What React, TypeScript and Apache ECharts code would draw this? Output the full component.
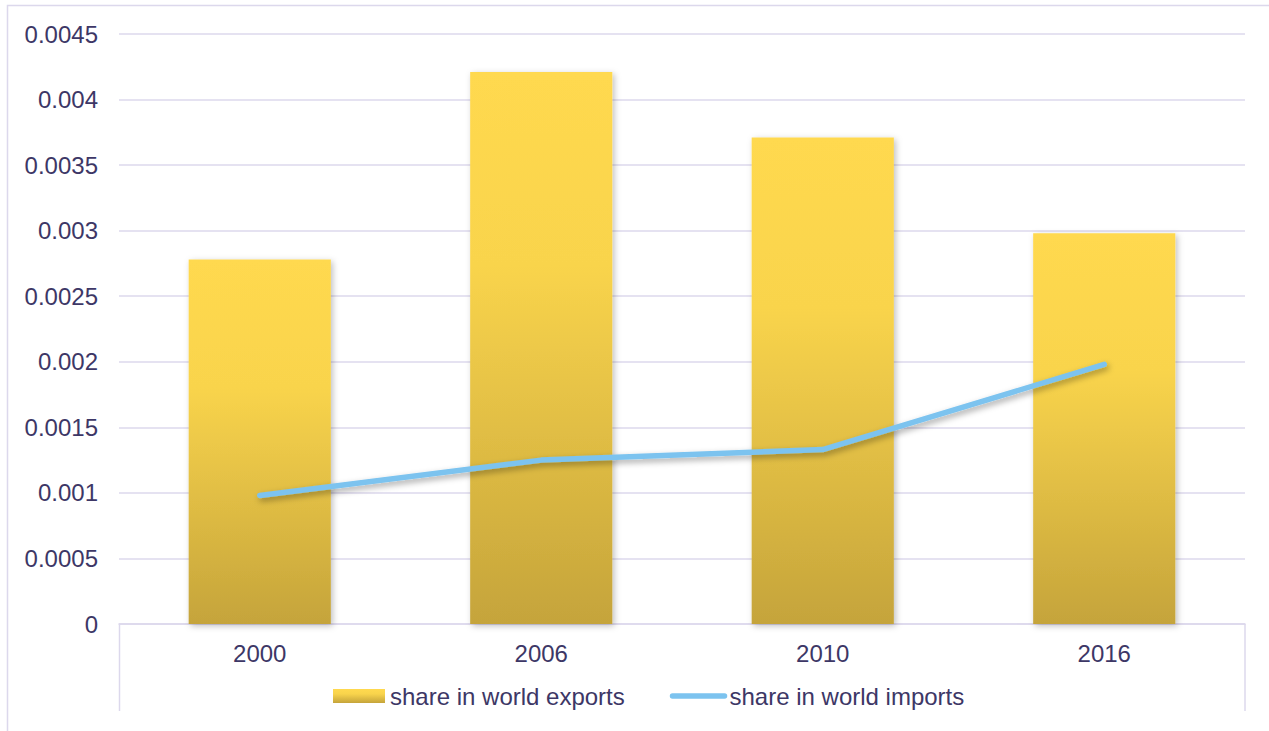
import React, { useEffect, useRef } from "react";
import * as echarts from "echarts";

const categories = ["2000", "2006", "2010", "2016"];
const exportsShare = [0.00278, 0.00421, 0.00371, 0.00298];
const importsShare = [0.00098, 0.00125, 0.00133, 0.00198];

const TEXT = "#3d3766";
const GRID = "#dcd8ec";
const FONT = "'Liberation Sans', Arial, sans-serif";

export default function App() {
  const ref = useRef<HTMLDivElement>(null);
  useEffect(() => {
    document.body.style.margin = "0";
    const chart = echarts.init(ref.current!, undefined, { renderer: "svg" });
    chart.setOption({
      animation: false,
      backgroundColor: "#ffffff",
      textStyle: { fontFamily: FONT, color: TEXT },
      grid: { left: 119, right: 24, top: 34, bottom: 107, containLabel: false },
      legend: {
        left: 328,
        top: 679,
        itemWidth: 52,
        itemHeight: 14,
        itemGap: 45,
        textStyle: { fontSize: 24, color: TEXT, fontFamily: FONT },
        data: [
          { name: "share in world exports", icon: "rect" },
          {
            name: "share in world imports",
            itemStyle: { color: "transparent", borderWidth: 0, opacity: 0 },
            lineStyle: { width: 5.5, cap: "round", color: "#7cc3ef" },
          },
        ],
      },
      xAxis: {
        type: "category",
        data: categories,
        boundaryGap: true,
        axisLine: { show: true, lineStyle: { color: GRID, width: 1.5 } },
        axisTick: { show: false },
        axisLabel: { fontSize: 24, color: TEXT, fontFamily: FONT, margin: 17 },
      },
      yAxis: {
        type: "value",
        min: 0,
        max: 0.0045,
        interval: 0.0005,
        axisLine: { show: false },
        axisTick: { show: false },
        splitLine: { lineStyle: { color: GRID, width: 1.5 } },
        axisLabel: {
          fontSize: 24,
          color: TEXT,
          fontFamily: FONT,
          margin: 21,
          formatter: (v: number) => (v === 0 ? "0" : String(parseFloat(v.toFixed(4)))),
        },
      },
      series: [
        {
          name: "share in world exports",
          type: "bar",
          data: exportsShare,
          barWidth: "50.5%",
          itemStyle: {
            color: new echarts.graphic.LinearGradient(0, 0, 0, 1, [
              { offset: 0, color: "#ffd94f" },
              { offset: 0.35, color: "#f9d44c" },
              { offset: 1, color: "#c5a43b" },
            ]),
            shadowBlur: 6,
            shadowColor: "rgba(0,0,0,0.25)",
            shadowOffsetX: 2,
            shadowOffsetY: 2,
          },
        },
        {
          name: "share in world imports",
          type: "line",
          data: importsShare,
          symbol: "none",
          showSymbol: false,
          lineStyle: {
            color: "#7cc3ef",
            width: 5.5,
            cap: "round",
            join: "round",
            shadowBlur: 6,
            shadowColor: "rgba(0,0,0,0.35)",
            shadowOffsetX: 2,
            shadowOffsetY: 3,
          },
          itemStyle: { color: "#7cc3ef" },
          z: 5,
        },
      ],
      graphic: [
        {
          type: "rect",
          shape: { x: 7.5, y: 5.5, width: 1400, height: 900 },
          style: { fill: "none", stroke: GRID, lineWidth: 1.5 },
          silent: true,
          z: -1,
        },
        {
          type: "line",
          shape: { x1: 119.5, y1: 624, x2: 119.5, y2: 711 },
          style: { stroke: GRID, lineWidth: 1.5 },
          silent: true,
        },
        {
          type: "line",
          shape: { x1: 1245, y1: 624, x2: 1245, y2: 711 },
          style: { stroke: GRID, lineWidth: 1.5 },
          silent: true,
        },
      ],
    });
    return () => chart.dispose();
  }, []);
  return (
    <div
      ref={ref}
      style={{ position: "absolute", left: 0, top: 0, width: 1269, height: 731 }}
    />
  );
}
